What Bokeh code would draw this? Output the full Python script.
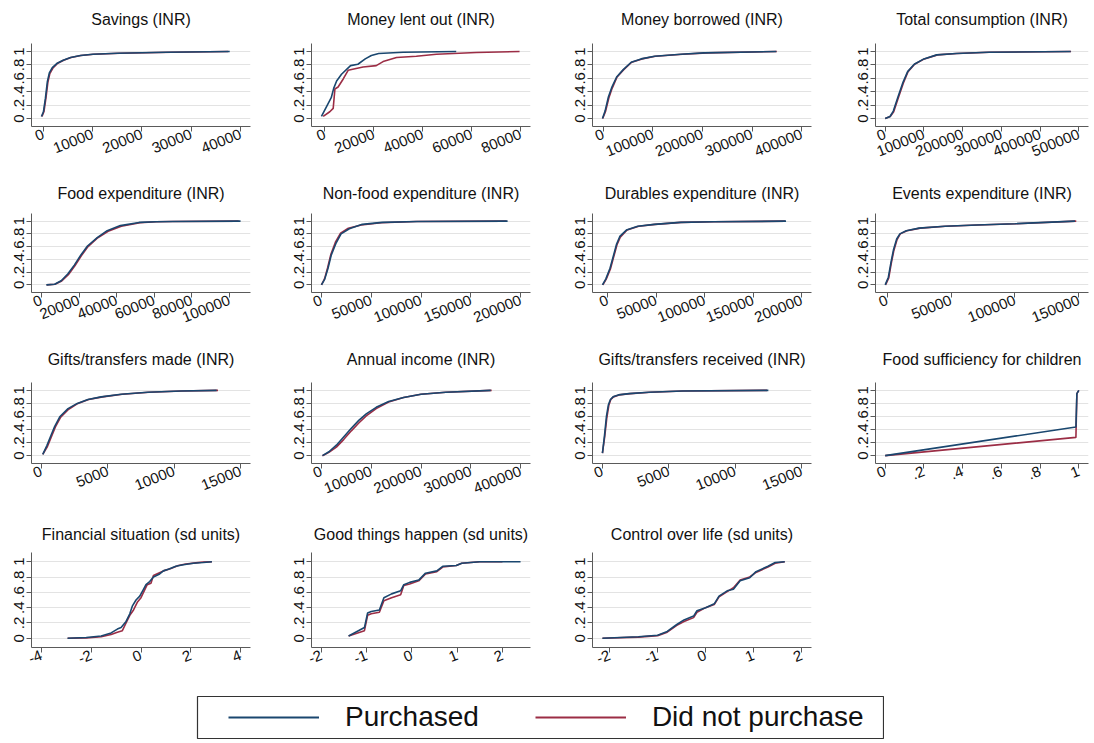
from bokeh.plotting import figure
from bokeh.layouts import column, row
from bokeh.models import FixedTicker, Range1d, Legend, LegendItem, Spacer, Title
from bokeh.embed import file_html
from bokeh.resources import INLINE

# ---------------- data ----------------
series_names = ["Purchased", "Did not purchase"]

titles = ["Savings (INR)", "Money lent out (INR)", "Money borrowed (INR)", "Total consumption (INR)",
          "Food expenditure (INR)", "Non-food expenditure (INR)", "Durables expenditure (INR)", "Events expenditure (INR)",
          "Gifts/transfers made (INR)", "Annual income (INR)", "Gifts/transfers received (INR)", "Food sufficiency for children",
          "Financial situation (sd units)", "Good things happen (sd units)", "Control over life (sd units)"]

y_ticks = [0, 0.2, 0.4, 0.6, 0.8, 1]
y_tick_labels = ["0", ".2", ".4", ".6", ".8", "1"]

savings_ticks = [0, 10000, 20000, 30000, 40000]
lent_ticks = [0, 20000, 40000, 60000, 80000]
borrow_ticks = [0, 100000, 200000, 300000, 400000]
cons_ticks = [0, 100000, 200000, 300000, 400000, 500000]
food_ticks = [0, 20000, 40000, 60000, 80000, 100000]
nonfood_ticks = [0, 50000, 100000, 150000, 200000]
dur_ticks = [0, 50000, 100000, 150000, 200000]
events_ticks = [0, 50000, 100000, 150000]
gmade_ticks = [0, 5000, 10000, 15000]
income_ticks = [0, 100000, 200000, 300000, 400000]
grecv_ticks = [0, 5000, 10000, 15000]
suff_ticks = [0, 0.2, 0.4, 0.6, 0.8, 1]
suff_tick_labels = ["0", ".2", ".4", ".6", ".8", "1"]
fin_ticks = [-4, -2, 0, 2, 4]
good_ticks = [-2, -1, 0, 1, 2]
control_ticks = [-2, -1, 0, 1, 2]

savings_p_x = [-400, 0, 400, 800, 1200, 1800, 2700, 4000, 5500, 7500, 10000, 15000, 25000, 37800]
savings_p_y = [0.03, 0.1, 0.3, 0.55, 0.68, 0.76, 0.82, 0.87, 0.91, 0.94, 0.96, 0.975, 0.99, 1.0]
savings_n_x = [-300, 100, 500, 900, 1300, 1900, 2800, 4100, 5600, 7600, 10200, 15500, 26000, 37500]
savings_n_y = [0.03, 0.1, 0.3, 0.54, 0.67, 0.75, 0.82, 0.87, 0.91, 0.94, 0.96, 0.975, 0.99, 1.0]

lent_p_x = [-1400, 1000, 2600, 3600, 4800, 6800, 10500, 13500, 16500, 19000, 22000, 32000, 53700]
lent_p_y = [0.03, 0.2, 0.31, 0.45, 0.56, 0.66, 0.79, 0.81, 0.89, 0.94, 0.97, 0.99, 1.0]
lent_n_x = [-700, 2000, 3400, 4100, 5400, 7500, 9500, 15600, 21000, 23800, 29300, 37400, 45600, 61900, 79600]
lent_n_y = [0.03, 0.1, 0.15, 0.44, 0.47, 0.59, 0.72, 0.77, 0.79, 0.85, 0.91, 0.93, 0.96, 0.985, 1.0]

borrow_p_x = [-2000, 3300, 10000, 16600, 26600, 40000, 56000, 76000, 103000, 156000, 203000, 349000]
borrow_p_y = [0.0, 0.11, 0.32, 0.46, 0.62, 0.73, 0.84, 0.89, 0.93, 0.96, 0.98, 1.0]
borrow_n_x = [-1500, 4000, 11000, 17500, 27500, 41000, 57000, 78000, 105000, 160000, 210000, 350000]
borrow_n_y = [0.0, 0.1, 0.31, 0.45, 0.62, 0.73, 0.84, 0.89, 0.93, 0.96, 0.98, 1.0]

cons_p_x = [0, 12500, 21000, 33000, 46000, 58000, 75000, 100000, 133000, 183000, 267000, 479000]
cons_p_y = [0.0, 0.03, 0.11, 0.32, 0.54, 0.7, 0.81, 0.89, 0.95, 0.97, 0.99, 1.0]
cons_n_x = [0, 13000, 22000, 34000, 47000, 59000, 76000, 101000, 135000, 185000, 270000, 480000]
cons_n_y = [0.0, 0.03, 0.1, 0.31, 0.53, 0.7, 0.81, 0.89, 0.95, 0.97, 0.99, 1.0]

food_p_x = [2600, 7000, 10500, 14000, 17500, 21000, 24500, 29700, 35000, 42000, 52000, 61000, 70000, 106000]
food_p_y = [0.0, 0.01, 0.065, 0.17, 0.31, 0.47, 0.61, 0.74, 0.85, 0.93, 0.98, 0.99, 0.995, 1.0]
food_n_x = [2800, 7200, 10800, 14300, 17800, 21300, 24800, 30000, 35500, 42500, 52500, 61000, 70000, 105000]
food_n_y = [0.0, 0.01, 0.06, 0.16, 0.3, 0.46, 0.6, 0.74, 0.84, 0.92, 0.975, 0.99, 0.995, 1.0]

nonfood_p_x = [0, 3300, 6600, 9900, 14800, 19700, 28000, 41000, 61000, 97000, 187000]
nonfood_p_y = [0.0, 0.09, 0.26, 0.47, 0.66, 0.8, 0.88, 0.95, 0.98, 0.995, 1.0]
nonfood_n_x = [0, 3000, 6200, 9500, 14300, 19200, 27000, 40000, 60000, 95000, 186000]
nonfood_n_y = [0.0, 0.09, 0.27, 0.48, 0.68, 0.81, 0.89, 0.94, 0.975, 0.995, 1.0]

dur_p_x = [-5400, -2000, 2400, 5800, 9200, 12500, 19300, 31000, 48000, 75000, 109000, 184000]
dur_p_y = [0.0, 0.09, 0.26, 0.45, 0.64, 0.76, 0.86, 0.92, 0.95, 0.98, 0.99, 1.0]
dur_n_x = [-5000, -1500, 2800, 6200, 9600, 13000, 20000, 32000, 49000, 76000, 110000, 183000]
dur_n_y = [0.0, 0.09, 0.25, 0.44, 0.63, 0.75, 0.86, 0.92, 0.95, 0.98, 0.99, 1.0]

events_p_x = [-1500, 1000, 3000, 5000, 7500, 10000, 15000, 25000, 45000, 70000, 100000, 147000]
events_p_y = [0.0, 0.12, 0.35, 0.55, 0.72, 0.8, 0.85, 0.89, 0.92, 0.94, 0.96, 1.0]
events_n_x = [-1200, 1300, 3300, 5300, 7800, 10300, 15500, 26000, 46000, 71000, 101000, 148000]
events_n_y = [0.0, 0.11, 0.34, 0.54, 0.71, 0.8, 0.85, 0.89, 0.92, 0.94, 0.96, 1.0]

gmade_p_x = [100, 400, 700, 1000, 1400, 2000, 2700, 3500, 4500, 6000, 8000, 10500, 13200]
gmade_p_y = [0.02, 0.15, 0.3, 0.45, 0.6, 0.72, 0.8, 0.86, 0.9, 0.94, 0.97, 0.99, 1.0]
gmade_n_x = [100, 450, 750, 1050, 1450, 2050, 2750, 3550, 4600, 6100, 8100, 10600, 13300]
gmade_n_y = [0.02, 0.14, 0.29, 0.44, 0.59, 0.71, 0.8, 0.86, 0.9, 0.94, 0.97, 0.99, 1.0]

income_p_x = [2000, 15000, 30000, 45000, 60000, 75000, 90000, 110000, 135000, 165000, 200000, 250000, 340000]
income_p_y = [0.0, 0.06, 0.16, 0.29, 0.42, 0.54, 0.64, 0.74, 0.83, 0.89, 0.94, 0.97, 1.0]
income_n_x = [2000, 15000, 30000, 45000, 60000, 75000, 90000, 110000, 135000, 165000, 200000, 250000, 342000]
income_n_y = [0.0, 0.05, 0.13, 0.25, 0.38, 0.5, 0.61, 0.72, 0.82, 0.89, 0.94, 0.97, 1.0]

grecv_p_x = [0, 150, 300, 450, 600, 800, 1200, 2000, 3500, 6000, 12500]
grecv_p_y = [0.04, 0.3, 0.6, 0.78, 0.86, 0.9, 0.93, 0.95, 0.97, 0.99, 1.0]
grecv_n_x = [0, 170, 330, 480, 630, 830, 1250, 2100, 3600, 6100, 12400]
grecv_n_y = [0.04, 0.29, 0.58, 0.77, 0.86, 0.9, 0.93, 0.95, 0.97, 0.99, 1.0]

suff_p_x = [0, 0.985, 0.99, 1.0]
suff_p_y = [0.0, 0.44, 0.95, 1.0]
suff_n_x = [0, 0.985, 0.99, 1.0]
suff_n_y = [0.0, 0.28, 0.95, 1.0]

fin_p_x = [-2.95, -2.2, -1.6, -1.2, -0.95, -0.8, -0.6, -0.45, -0.35, -0.2, -0.05, 0.1, 0.2, 0.35, 0.5, 0.75, 0.9, 1.1, 1.4, 1.7, 2.1, 2.5, 2.85]
fin_p_y = [0.0, 0.01, 0.03, 0.07, 0.12, 0.14, 0.22, 0.32, 0.42, 0.5, 0.55, 0.64, 0.7, 0.74, 0.8, 0.84, 0.88, 0.9, 0.94, 0.96, 0.98, 0.99, 1.0]
fin_n_x = [-2.95, -2.2, -1.6, -1.2, -0.95, -0.75, -0.6, -0.45, -0.3, -0.15, 0.0, 0.1, 0.25, 0.4, 0.5, 0.7, 0.9, 1.2, 1.5, 1.8, 2.2, 2.5, 2.85]
fin_n_y = [0.0, 0.005, 0.02, 0.05, 0.08, 0.1, 0.2, 0.3, 0.37, 0.47, 0.53, 0.6, 0.7, 0.72, 0.82, 0.85, 0.88, 0.91, 0.95, 0.97, 0.985, 0.995, 1.0]

good_p_x = [-1.4, -1.05, -0.98, -0.9, -0.72, -0.62, -0.45, -0.25, -0.18, -0.05, 0.15, 0.3, 0.55, 0.68, 0.98, 1.1, 1.5, 2.4]
good_p_y = [0.03, 0.14, 0.33, 0.35, 0.37, 0.53, 0.58, 0.62, 0.7, 0.73, 0.76, 0.85, 0.88, 0.94, 0.95, 0.98, 1.0, 1.0]
good_n_x = [-1.4, -1.05, -0.98, -0.9, -0.72, -0.62, -0.45, -0.25, -0.18, -0.05, 0.15, 0.3, 0.55, 0.68, 0.98, 1.1, 1.5, 2.0]
good_n_y = [0.03, 0.1, 0.3, 0.32, 0.34, 0.49, 0.53, 0.57, 0.69, 0.71, 0.75, 0.84, 0.87, 0.93, 0.95, 0.98, 1.0, 1.0]

control_p_x = [-2.15, -1.4, -1.0, -0.8, -0.6, -0.45, -0.25, -0.18, 0.0, 0.18, 0.28, 0.45, 0.58, 0.72, 0.92, 1.05, 1.3, 1.45, 1.65]
control_p_y = [0.0, 0.02, 0.04, 0.09, 0.18, 0.24, 0.29, 0.36, 0.4, 0.45, 0.55, 0.62, 0.64, 0.75, 0.79, 0.87, 0.94, 0.99, 1.0]
control_n_x = [-2.15, -1.4, -1.0, -0.8, -0.6, -0.45, -0.25, -0.18, 0.0, 0.18, 0.28, 0.45, 0.58, 0.72, 0.92, 1.05, 1.3, 1.45, 1.65]
control_n_y = [0.0, 0.015, 0.035, 0.08, 0.17, 0.22, 0.27, 0.34, 0.4, 0.44, 0.54, 0.61, 0.66, 0.76, 0.8, 0.86, 0.93, 0.98, 1.0]

# ---------------- style ----------------
BLUE = "#1a476f"
RED = "#9b2d45"
FONT = "Liberation Sans"

panels = [
    (savings_ticks, None, savings_p_x, savings_p_y, savings_n_x, savings_n_y),
    (lent_ticks, None, lent_p_x, lent_p_y, lent_n_x, lent_n_y),
    (borrow_ticks, None, borrow_p_x, borrow_p_y, borrow_n_x, borrow_n_y),
    (cons_ticks, None, cons_p_x, cons_p_y, cons_n_x, cons_n_y),
    (food_ticks, None, food_p_x, food_p_y, food_n_x, food_n_y),
    (nonfood_ticks, None, nonfood_p_x, nonfood_p_y, nonfood_n_x, nonfood_n_y),
    (dur_ticks, None, dur_p_x, dur_p_y, dur_n_x, dur_n_y),
    (events_ticks, None, events_p_x, events_p_y, events_n_x, events_n_y),
    (gmade_ticks, None, gmade_p_x, gmade_p_y, gmade_n_x, gmade_n_y),
    (income_ticks, None, income_p_x, income_p_y, income_n_x, income_n_y),
    (grecv_ticks, None, grecv_p_x, grecv_p_y, grecv_n_x, grecv_n_y),
    (suff_ticks, suff_tick_labels, suff_p_x, suff_p_y, suff_n_x, suff_n_y),
    (fin_ticks, None, fin_p_x, fin_p_y, fin_n_x, fin_n_y),
    (good_ticks, None, good_p_x, good_p_y, good_n_x, good_n_y),
    (control_ticks, None, control_p_x, control_p_y, control_n_x, control_n_y),
]

col_widths = [280, 281, 283, 240]
row_heights = [174, 166, 175, 166]
row_top = [35, 31, 34, 29]
LEFT = 23


def bottom_border(i):
    r = i // 4
    if i == 11:
        return 46
    if r == 3:
        return 42
    if r == 2:
        return 60
    return 56


def make_panel(i):
    ticks, labels, px, py, nx, ny = panels[i]
    c, r = i % 4, i // 4
    w, h = col_widths[c], row_heights[r]
    frame_w = 219 if c < 3 else w - LEFT - 4
    lo = min(min(ticks), min(px), min(nx))
    hi = max(max(ticks), max(px), max(nx))
    pad = 0.05 * (hi - lo)
    p = figure(width=w, height=h, output_backend="svg", toolbar_location=None,
               x_range=Range1d(lo - pad, hi + pad), y_range=Range1d(-0.12, 1.12),
               min_border_left=LEFT, min_border_right=w - LEFT - frame_w,
               min_border_top=row_top[r], min_border_bottom=bottom_border(i),
               title=titles[i])
    p.title.align = "center"
    p.title.text_font = FONT
    p.title.text_font_size = "16px"
    p.title.text_font_style = "normal"
    p.title.text_color = "#111111"
    p.title.standoff = 0
    # empty gap between frame and title
    p.add_layout(Title(text=" ", text_font_size="1px", standoff=row_top[r] - 22), "above")
    p.outline_line_color = None
    p.background_fill_color = "white"
    p.border_fill_color = "white"
    p.xgrid.visible = False
    p.ygrid.grid_line_color = "#e3e3e3"
    p.ygrid.grid_line_width = 1

    xa, ya = p.xaxis[0], p.yaxis[0]
    xa.ticker = FixedTicker(ticks=ticks)
    lab = labels if labels is not None else [str(t) for t in ticks]
    xa.major_label_overrides = {t: l for t, l in zip(ticks, lab)}
    xa.major_label_orientation = 0.38
    ya.ticker = FixedTicker(ticks=y_ticks)
    ya.major_label_overrides = {t: l for t, l in zip(y_ticks, y_tick_labels)}
    ya.major_label_orientation = "vertical"
    for ax in (xa, ya):
        ax.axis_line_color = "#5a5a5a"
        ax.major_tick_line_color = "#5a5a5a"
        ax.major_tick_out = 5
        ax.major_tick_in = 0
        ax.minor_tick_line_color = None
        ax.major_label_text_font = FONT
        ax.major_label_text_color = "#111111"
        ax.major_label_standoff = 2
    xa.major_label_text_font_size = "15px"
    ya.major_label_text_font_size = "15px"

    p.line(nx, ny, color=RED, line_width=1.6)
    p.line(px, py, color=BLUE, line_width=1.6)
    return p


figs = [make_panel(i) for i in range(len(panels))]
rows = [row(Spacer(width=8), *figs[k:k + 4]) for k in range(0, len(figs), 4)]

leg = figure(width=688, height=44, output_backend="svg", toolbar_location=None,
             x_range=Range1d(0, 1), y_range=Range1d(0, 1),
             x_axis_location=None, y_axis_location=None, min_border=1)
leg.grid.visible = False
leg.outline_line_color = "#333333"
leg.outline_line_width = 1.2
nan = float("nan")
r1 = leg.line(x=[nan], y=[nan], color=BLUE, line_width=2.2)
r2 = leg.line(x=[nan], y=[nan], color=RED, line_width=2.2)
legend = Legend(items=[LegendItem(label=series_names[0], renderers=[r1]),
                       LegendItem(label=series_names[1], renderers=[r2])],
                orientation="horizontal", location="left",
                glyph_width=91, glyph_height=20, label_standoff=26, spacing=56,
                label_text_font=FONT, label_text_font_size="28px", label_text_color="#111111",
                border_line_color=None, background_fill_alpha=0, padding=0, margin=31)
leg.add_layout(legend, "center")

layout = column(Spacer(height=8), *rows, Spacer(height=6), row(Spacer(width=196), leg))

open("out.html", "w").write(file_html(layout, INLINE))
